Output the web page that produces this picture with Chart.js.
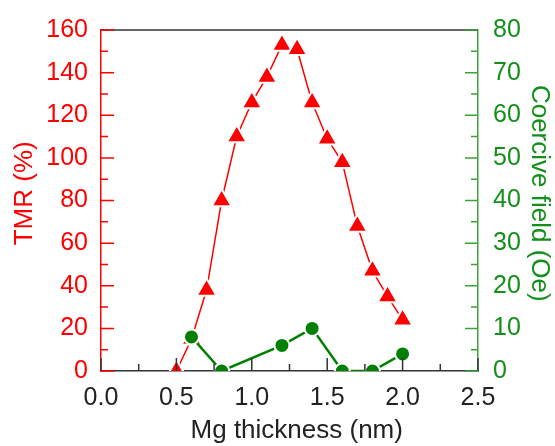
<!DOCTYPE html>
<html>
<head>
    <title>TMR vs Mg thickness</title>
    <script src="https://cdn.jsdelivr.net/npm/chart.js@4.4.0/dist/chart.umd.min.js"></script>
    <style>
        body { margin: 0; background: #fff; }
    </style>
</head>
<body>
    <canvas id="chart" width="555" height="446"></canvas>
    <script>
        // Mg thickness (nm) for the TMR series
        const thickness = [0.5, 0.6, 0.7, 0.8, 0.9, 1.0, 1.1, 1.2, 1.3, 1.4, 1.5, 1.6, 1.7, 1.8, 1.9, 2.0];
        const tmr = [0, 15, 38, 80, 110, 126, 138, 153, 151, 126, 109, 98, 68, 47, 35, 24];

        // coercive field series (right axis)
        const hcThickness = [0.6, 0.8, 1.2, 1.4, 1.6, 1.8, 2.0];
        const coercive = [8, 0, 6, 10, 0, 0, 4];

        const RED = '#ff0000';
        const GREEN = '#008000';
        const GREEN_TEXT = '#12901a';
        const GREEN_AXIS = '#3aa33a';

        Chart.defaults.font.family = "'Liberation Sans', Arial, sans-serif";

        // ticks point inward, with one minor tick between each pair of major ticks
        const inwardTicks = {
            id: 'inwardTicks',
            afterDraw(chart) {
                const { ctx, chartArea: a, scales } = chart;
                ctx.save();
                ctx.lineWidth = 1.5;

                ctx.strokeStyle = '#333';
                ctx.beginPath();
                ctx.moveTo(a.left, a.top);
                ctx.lineTo(a.right, a.top);
                ctx.stroke();

                const draw = (scale, step, color, side) => {
                    ctx.strokeStyle = color;
                    ctx.beginPath();
                    const n = Math.round((scale.max - scale.min) / (step / 2));
                    for (let i = 0; i <= n; i++) {
                        const v = scale.min + i * step / 2;
                        const len = i % 2 === 0 ? 13 : 7;
                        const p = scale.getPixelForValue(v);
                        if (side === 'bottom') {
                            ctx.moveTo(p, a.bottom); ctx.lineTo(p, a.bottom - len);
                        } else if (side === 'left') {
                            ctx.moveTo(a.left, p); ctx.lineTo(a.left + len, p);
                        } else {
                            ctx.moveTo(a.right, p); ctx.lineTo(a.right - len, p);
                        }
                    }
                    ctx.stroke();
                };

                draw(scales.x, 0.5, '#333', 'bottom');
                draw(scales.y, 20, RED, 'left');
                draw(scales.y1, 10, GREEN_AXIS, 'right');
                ctx.restore();
            }
        };

        const ctx = document.getElementById('chart').getContext('2d');
        new Chart(ctx, {
            type: 'line',
            data: {
                datasets: [
                    {
                        label: 'TMR',
                        data: thickness.map((x, i) => ({ x, y: tmr[i] })),
                        yAxisID: 'y',
                        borderColor: RED,
                        borderWidth: 1.5,
                        backgroundColor: RED,
                        pointStyle: 'triangle',
                        pointRadius: 11.5,
                        pointBorderColor: '#fff',
                        pointBorderWidth: 2,
                        clip: 0,
                        order: 2
                    },
                    {
                        label: 'Coercive field',
                        data: hcThickness.map((x, i) => ({ x, y: coercive[i] })),
                        yAxisID: 'y1',
                        borderColor: GREEN,
                        borderWidth: 2.5,
                        backgroundColor: GREEN,
                        pointStyle: 'circle',
                        pointRadius: 7.5,
                        pointBorderColor: '#fff',
                        pointBorderWidth: 2,
                        clip: 0,
                        order: 1
                    }
                ]
            },
            options: {
                responsive: false,
                animation: false,
                devicePixelRatio: 1,
                layout: { padding: { top: 24, left: 0, right: 0, bottom: 0 } },
                plugins: {
                    legend: { display: false },
                    tooltip: { enabled: false }
                },
                scales: {
                    x: {
                        type: 'linear',
                        min: 0,
                        max: 2.5,
                        grid: { display: false, drawTicks: false },
                        border: { color: '#333', width: 1.5 },
                        ticks: {
                            stepSize: 0.5,
                            autoSkip: false,
                            maxRotation: 0,
                            padding: 12,
                            color: '#222',
                            font: { size: 25 },
                            callback: v => v.toFixed(1)
                        },
                        title: {
                            display: true,
                            text: '  Mg thickness (nm)',
                            color: '#222',
                            font: { size: 26 },
                            padding: { top: 0, bottom: 0 }
                        },
                        afterFit: s => { s.height = 75; }
                    },
                    y: {
                        position: 'left',
                        min: 0,
                        max: 160,
                        grid: { display: false, drawTicks: false },
                        border: { color: RED, width: 1.5 },
                        ticks: {
                            stepSize: 20,
                            padding: 13,
                            color: RED,
                            font: { size: 25 }
                        },
                        title: {
                            display: true,
                            text: '  TMR (%)',
                            color: RED,
                            font: { size: 26 },
                            padding: { top: 9, bottom: 0 }
                        },
                        afterFit: s => { s.width = 101; }
                    },
                    y1: {
                        position: 'right',
                        min: 0,
                        max: 80,
                        grid: { display: false, drawTicks: false },
                        border: { color: GREEN_AXIS, width: 1.5 },
                        ticks: {
                            stepSize: 10,
                            padding: 15,
                            color: GREEN_TEXT,
                            font: { size: 25 }
                        },
                        title: {
                            display: true,
                            text: 'Coercive field (Oe)  ',
                            color: GREEN_TEXT,
                            font: { size: 26 },
                            padding: { top: 0, bottom: 0 }
                        },
                        afterFit: s => { s.width = 77; }
                    }
                }
            },
            plugins: [inwardTicks]
        });
    </script>
</body>
</html>
